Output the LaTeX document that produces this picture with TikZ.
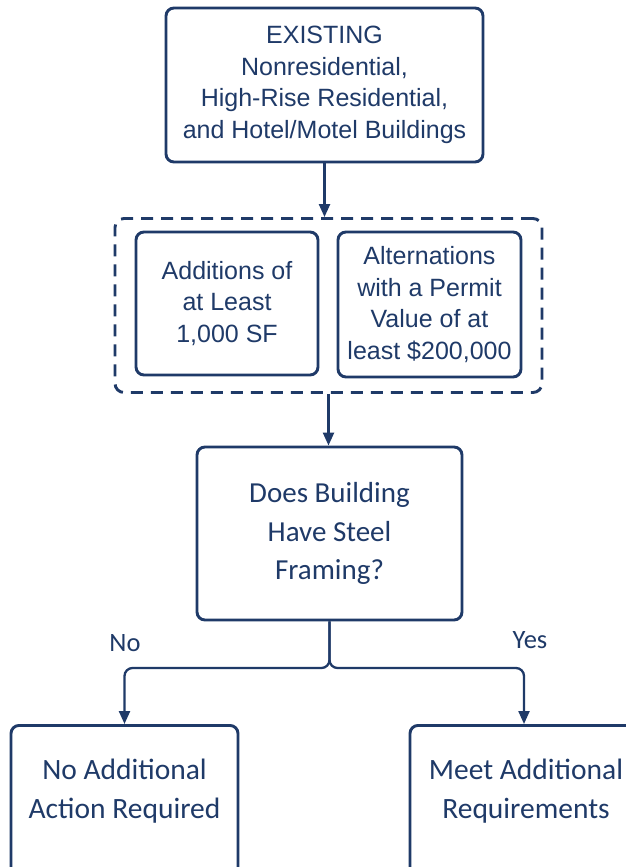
\documentclass[tikz,border=0pt]{standalone}
\usepackage{fontspec}
\setmainfont{Liberation Sans}
\newfontfamily\calfont{Carlito}
\usetikzlibrary{arrows.meta}
\definecolor{navy}{HTML}{1F3A68}
\tikzset{
  box/.style={draw=navy, line width=2.9pt, rounded corners=8pt, inner sep=0pt, anchor=center, text=navy, align=center},
  grp/.style={draw=navy, line width=2.9pt, rounded corners=9pt, dash pattern=on 12pt off 8pt, inner sep=0pt},
  arial/.style={font=\fontsize{25}{31.5}\selectfont},
  cal/.style={font=\calfont\fontsize{29}{38.5}\selectfont, text=navy, align=center},
  conn/.style={draw=navy, line width=2.3pt, -{Triangle[length=13pt,width=11pt]}},
}
\begin{document}
\begin{tikzpicture}[x=1pt,y=-1pt]
\useasboundingbox (0,0) rectangle (626,867);
\clip (0,0) rectangle (626,867);
\fill[white] (0,0) rectangle (626,867);

\node[box, arial, minimum width=317pt, minimum height=154pt] (top) at (324.5,85)
  {EXISTING\\Nonresidential,\\High-Rise Residential,\\and Hotel/Motel Buildings};

\node[grp, minimum width=427pt, minimum height=174pt] (grp) at (328.5,305.5) {};
\node[box, arial, minimum width=182pt, minimum height=143pt] (add) at (227,303.5)
  {Additions of\\at Least\\1,000 SF};
\node[box, arial, minimum width=183pt, minimum height=145pt] (alt) at (429.5,304.5)
  {Alternations\\with a Permit\\Value of at\\least \$200,000};

\node[box, cal, minimum width=265pt, minimum height=173pt] (dec) at (329.5,533.5)
  {Does Building\\Have Steel\\Framing?};

\node[box, minimum width=227pt, minimum height=220pt, anchor=north] (no) at (124.5,724) {};
\node[cal, font=\calfont\fontsize{29.5}{39}\selectfont, anchor=center] (notext) at (124.5,791) {No Additional\\Action Required};
\node[box, minimum width=228pt, minimum height=220pt, anchor=north] (yes) at (524,724) {};
\node[cal, font=\calfont\fontsize{29.5}{39}\selectfont, anchor=center] (yestext) at (526,791) {Meet Additional\\Requirements};

\node[cal, font=\calfont\fontsize{26.5}{30}\selectfont] (nolab) at (125,643) {No};
\node[cal, font=\calfont\fontsize{26.5}{30}\selectfont] (yeslab) at (530,640) {Yes};

\coordinate (split) at (dec.south |- 0,668);

\draw[conn] (top.south) -- (top.south |- grp.north);
\draw[conn] (grp.south) -- (grp.south |- dec.north);
\draw[conn, rounded corners=8pt] (dec.south) -- (split) -| (no.north);
\draw[conn, rounded corners=8pt] (dec.south) -- (split) -| (yes.north);
\end{tikzpicture}
\end{document}
